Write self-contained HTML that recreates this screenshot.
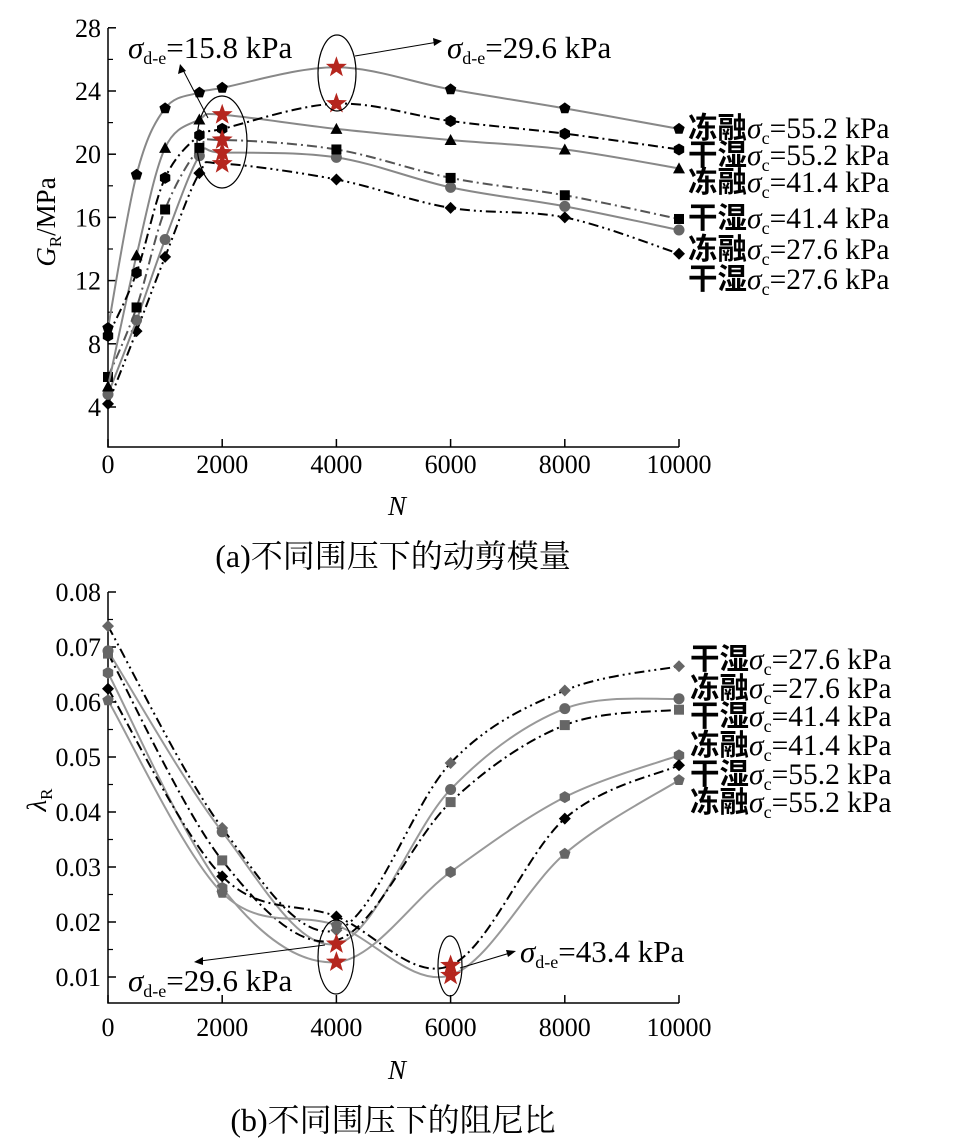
<!DOCTYPE html>
<html><head><meta charset="utf-8"><style>
body{margin:0;background:#fff;}
svg{display:block;font-family:"Liberation Serif","Noto Serif CJK SC",serif;}
</style></head><body>
<svg id="chart" width="973" height="1147" xmlns="http://www.w3.org/2000/svg">
<g id="top"></g>
<g id="bot"></g>
</svg>
<script>
const xTop=[0,500,1000,1600,2000,4000,6000,8000,10000];
const gFr552=[9.0,18.7,22.9,23.9,24.2,25.5,24.1,22.9,21.6];
const gDw552=[8.5,12.5,18.5,21.2,21.6,23.2,22.1,21.3,20.3];
const gFr414=[5.3,13.6,20.4,22.2,22.5,21.6,20.9,20.3,19.1];
const gDw414=[5.9,10.3,16.5,20.4,20.9,20.3,18.5,17.4,15.9];
const gFr276=[4.8,9.5,14.6,19.9,20.1,19.8,17.9,16.7,15.2];
const gDw276=[4.2,8.8,13.5,18.8,19.4,18.4,16.6,16.0,13.7];
const gStarIdx2000=[gFr414,gDw414,gFr276,gDw276];
const gStarIdx4000=[gFr552,gDw552];
const topYTicks=[4,8,12,16,20,24,28];
const xTicks=[0,2000,4000,6000,8000,10000];

const xBot=[0,2000,4000,6000,8000,10000];
const lDw276=[0.0738,0.0371,0.0185,0.0489,0.0621,0.0665];
const lFr276=[0.0693,0.0364,0.0160,0.0441,0.0588,0.0606];
const lDw414=[0.0688,0.0312,0.0167,0.0418,0.0558,0.0586];
const lFr414=[0.0653,0.0262,0.0127,0.0291,0.0427,0.0503];
const lDw552=[0.0624,0.0283,0.0210,0.0121,0.0388,0.0485];
const lFr552=[0.0603,0.0253,0.0194,0.0103,0.0324,0.0458];
const botYTicks=[0.01,0.02,0.03,0.04,0.05,0.06,0.07,0.08];

const NS="http://www.w3.org/2000/svg";
function mk(p,tag,at){const e=document.createElementNS(NS,tag);for(const k in at)e.setAttribute(k,at[k]);p.appendChild(e);return e;}
const xs=v=>108+v/10000*571;
const ysT=v=>407-(v-4)*15.8;
const ysB=v=>977-(v-0.01)*5500;
const TF=26, LF=29.5, AF=31, CF=32;

function smooth(pts){
  let d=`M${pts[0][0]},${pts[0][1]}`;
  for(let i=0;i<pts.length-1;i++){
    const p0=pts[Math.max(0,i-1)],p1=pts[i],p2=pts[i+1],p3=pts[Math.min(pts.length-1,i+2)];
    const c1=[p1[0]+(p2[0]-p0[0])/6,p1[1]+(p2[1]-p0[1])/6];
    const c2=[p2[0]-(p3[0]-p1[0])/6,p2[1]-(p3[1]-p1[1])/6];
    d+=` C${c1[0]},${c1[1]} ${c2[0]},${c2[1]} ${p2[0]},${p2[1]}`;
  }
  return d;
}
function marker(g,type,x,y,fill){
  let e;
  if(type==='circle'){e=mk(g,'circle',{cx:x,cy:y,r:5.5,fill});}
  else if(type==='square'){e=mk(g,'rect',{x:x-5,y:y-5,width:10,height:10,fill});}
  else if(type==='triangle'){e=mk(g,'polygon',{points:`${x},${y-6} ${x-6},${y+5} ${x+6},${y+5}`,fill});}
  else if(type==='diamond'){e=mk(g,'polygon',{points:`${x},${y-6} ${x+6},${y} ${x},${y+6} ${x-6},${y}`,fill});}
  else {let p=[];const n=type==='pent'?5:6;for(let i=0;i<n;i++){const a=-Math.PI/2+i*2*Math.PI/n;p.push((x+6*Math.cos(a)).toFixed(1)+','+(y+6*Math.sin(a)).toFixed(1));}e=mk(g,'polygon',{points:p.join(' '),fill});}
  
  
}
function star(g,x,y){
  let p=[];for(let i=0;i<10;i++){const r=i%2?4.5:11;const a=-Math.PI/2+i*Math.PI/5;p.push((x+r*Math.cos(a)).toFixed(1)+','+(y+r*Math.sin(a)).toFixed(1));}
  const e=mk(g,'polygon',{points:p.join(' '),fill:'#b5261e'});
  
  
}
function series(g,xArr,vals,ys,col,dash,mtype,mcol,skip,name){
  const pts=xArr.map((x,i)=>[xs(x),ys(vals[i])]);
  const l=mk(g,'path',{d:smooth(pts),fill:'none',stroke:col,'stroke-width':2,'stroke-dasharray':dash});
  
  
  pts.forEach((p,i)=>{if(!skip.includes(i))marker(g,mtype,p[0],p[1],mcol);});
}
function text(g,x,y,s,size,anchor,name,extra){
  const t=mk(g,'text',Object.assign({x,y,'font-size':size,'text-anchor':anchor||'start'},extra||{}));
  t.innerHTML=s;
  
  
  return t;
}
const sig=(sub)=>`<tspan font-style="italic">σ</tspan><tspan font-size="18" dy="6">${sub}</tspan><tspan dy="-6">`;

// ---------- TOP ----------
const T=document.getElementById('top');
let ax=mk(T,'path',{d:'M108,28 V447 H679',fill:'none',stroke:'#000','stroke-width':1.5});

topYTicks.forEach(v=>{mk(T,'line',{x1:108,x2:116,y1:ysT(v),y2:ysT(v),stroke:'#000','stroke-width':1.5});
  text(T,101,ysT(v)+9,v,TF,'end','y-tick-label');
  if(v<28)mk(T,'line',{x1:108,x2:113,y1:ysT(v+2),y2:ysT(v+2),stroke:'#000','stroke-width':1.2});});
xTicks.forEach(v=>{mk(T,'line',{x1:xs(v),x2:xs(v),y1:447,y2:439,stroke:'#000','stroke-width':1.5});
  text(T,xs(v),473,v,TF,'middle','x-tick-label');});
text(T,397,515,'N',27,'middle','x-axis-title',{'font-style':'italic'});
text(T,0,0,'<tspan font-style="italic">G</tspan><tspan font-size="17" dy="6">R</tspan><tspan dy="-6">/MPa</tspan>',27,'middle','y-axis-title',{transform:'translate(55,222) rotate(-90)'});
text(T,393,567,'(a)不同围压下的动剪模量',CF,'middle','caption-a');

series(T,xTop,gDw276,ysT,'#000','10,4,2,4,2,4','diamond','#000',[4],'dw276');
series(T,xTop,gFr276,ysT,'#888','','circle','#666',[4],'fr276');
series(T,xTop,gDw414,ysT,'#555','10,4,2,4','square','#000',[4],'dw414');
series(T,xTop,gFr414,ysT,'#888','','triangle','#000',[4],'fr414');
series(T,xTop,gDw552,ysT,'#000','10,4,2,4','hex','#000',[5],'dw552');
series(T,xTop,gFr552,ysT,'#888','','pent','#000',[5],'fr552');
gStarIdx2000.forEach(a=>star(T,xs(2000),ysT(a[4])));
gStarIdx4000.forEach(a=>star(T,xs(4000),ysT(a[5])));
mk(T,'ellipse',{cx:222,cy:142,rx:25,ry:46,fill:'none',stroke:'#000','stroke-width':1.2});
mk(T,'ellipse',{cx:337,cy:73,rx:19,ry:38,fill:'none',stroke:'#000','stroke-width':1.2});
mk(T,'line',{x1:208,y1:118,x2:182,y2:68,stroke:'#000','stroke-width':1});
mk(T,'polygon',{points:'180,64 178,74 186,71',fill:'#000'});
mk(T,'line',{x1:355,y1:56,x2:438,y2:42,stroke:'#000','stroke-width':1});
mk(T,'polygon',{points:'442,41 433,38 434,46',fill:'#000'});
text(T,128,58,sig('d-e')+'=15.8 kPa</tspan>',AF,'start','annotation-15.8');
text(T,447,58,sig('d-e')+'=29.6 kPa</tspan>',AF,'start','annotation-29.6');
const legT=[['冻融','55.2',138],['干湿','55.2',165],['冻融','41.4',192],['干湿','41.4',228],['冻融','27.6',259],['干湿','27.6',289]];
legT.forEach(l=>text(T,688,l[2],`<tspan font-family="Noto Sans CJK SC" font-weight="bold">${l[0]}</tspan>`+sig('c')+'='+l[1]+' kPa</tspan>',LF,'start','legend-entry'));

// ---------- BOTTOM ----------
const B=document.getElementById('bot');
let ax2=mk(B,'path',{d:'M108,592 V1003 H679',fill:'none',stroke:'#000','stroke-width':1.5});

botYTicks.forEach(v=>{mk(B,'line',{x1:108,x2:116,y1:ysB(v),y2:ysB(v),stroke:'#000','stroke-width':1.5});
  text(B,101,ysB(v)+9,v.toFixed(2),TF,'end','y-tick-label');
  if(v<0.08)mk(B,'line',{x1:108,x2:113,y1:ysB(v+0.005),y2:ysB(v+0.005),stroke:'#000','stroke-width':1.2});});
xTicks.forEach(v=>{mk(B,'line',{x1:xs(v),x2:xs(v),y1:1003,y2:995,stroke:'#000','stroke-width':1.5});
  text(B,xs(v),1036,v,TF,'middle','x-tick-label');});
text(B,397,1079,'N',27,'middle','x-axis-title',{'font-style':'italic'});
text(B,0,0,'<tspan font-style="italic">λ</tspan><tspan font-size="17" dy="6">R</tspan>',27,'middle','y-axis-title',{transform:'translate(46,800) rotate(-90)'});
text(B,393,1131,'(b)不同围压下的阻尼比',CF,'middle','caption-b');

series(B,xBot,lDw276,ysB,'#000','10,4,2,4,2,4','diamond','#666',[],'dw276');
series(B,xBot,lFr276,ysB,'#999','','circle','#666',[2],'fr276');
series(B,xBot,lDw414,ysB,'#000','10,4,2,4','square','#666',[2],'dw414');
series(B,xBot,lFr414,ysB,'#999','','hex','#666',[2],'fr414');
series(B,xBot,lDw552,ysB,'#000','10,4,2,4','diamond','#000',[3],'dw552');
series(B,xBot,lFr552,ysB,'#999','','pent','#666',[3],'fr552');
[lFr276,lFr414].forEach(a=>star(B,xs(4000),ysB(a[2])));
[lDw552,lFr552].forEach(a=>star(B,xs(6000),ysB(a[3])));
mk(B,'ellipse',{cx:336,cy:957,rx:18,ry:37,fill:'none',stroke:'#000','stroke-width':1.2});
mk(B,'ellipse',{cx:450,cy:966,rx:12,ry:30,fill:'none',stroke:'#000','stroke-width':1.2});
mk(B,'line',{x1:325,y1:945,x2:200,y2:961,stroke:'#000','stroke-width':1});
mk(B,'polygon',{points:'194,962 203,957 203,965',fill:'#000'});
mk(B,'line',{x1:460,y1:968,x2:510,y2:953,stroke:'#000','stroke-width':1});
mk(B,'polygon',{points:'516,951 506,950 508,957',fill:'#000'});
text(B,128,991,sig('d-e')+'=29.6 kPa</tspan>',AF,'start','annotation-29.6');
text(B,520,962,sig('d-e')+'=43.4 kPa</tspan>',AF,'start','annotation-43.4');
const legB=[['干湿','27.6',669],['冻融','27.6 ',698],['干湿','41.4',726],['冻融','41.4',755],['干湿','55.2',784],['冻融','55.2',812]];
legB.forEach(l=>text(B,690,l[2],`<tspan font-family="Noto Sans CJK SC" font-weight="bold">${l[0]}</tspan>`+sig('c')+'='+l[1]+' kPa</tspan>',LF,'start','legend-entry'));
</script>
</body></html>
